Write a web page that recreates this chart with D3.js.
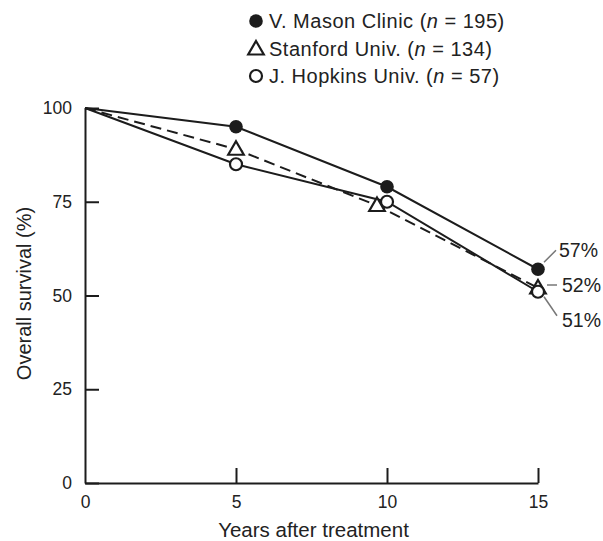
<!DOCTYPE html>
<html>
<head>
<meta charset="utf-8">
<script src="https://cdn.jsdelivr.net/npm/d3@7"></script>
<style>
  html, body { margin: 0; padding: 0; background: #fff; }
  svg { display: block; }
  text { font-family: "Liberation Sans", Arial, Helvetica, sans-serif; fill: #222; }
</style>
</head>
<body>
<svg id="chart" width="603" height="541"></svg>
<script>
// Overall survival by years after treatment, three centres
const years = [0, 5, 10, 15];
const masonSurvival = [100, 95, 79, 57];
const stanfordSurvival = [100, 89, 74, 52];
const hopkinsSurvival = [100, 85, 75, 51];

const seriesNames = ["V. Mason Clinic", "Stanford Univ.", "J. Hopkins Univ."];
const seriesN = [195, 134, 57];
const endLabels = ["57%", "52%", "51%"];

const yTickValues = [0, 25, 50, 75, 100];
const xTickValues = [0, 5, 10, 15];
const xTitle = "Years after treatment";
const yTitle = "Overall survival (%)";

const svg = d3.select("#chart");
const ink = "#1c1c1c";

const x = d3.scaleLinear().domain([0, 15]).range([85, 538]);
const y = d3.scaleLinear().domain([0, 100]).range([483, 108]);

// Axes: ticks point inward from the axis lines
const yAxis = svg.append("g")
  .attr("transform", `translate(${x(0)},0)`)
  .call(d3.axisLeft(y).tickValues(yTickValues).tickSizeInner(-14).tickSizeOuter(0).tickPadding(13));
const xAxis = svg.append("g")
  .attr("transform", `translate(0,${y(0)})`)
  .call(d3.axisBottom(x).tickValues(xTickValues).tickSizeInner(-15).tickSizeOuter(0).tickPadding(13));

[yAxis, xAxis].forEach(g => {
  g.select(".domain").attr("stroke", ink).attr("stroke-width", 2);
  g.selectAll(".tick line").attr("stroke", ink).attr("stroke-width", 2);
  g.selectAll(".tick text").attr("fill", "#222").style("font-size", "17.5px")
    .style("font-family", '"Liberation Sans", Arial, sans-serif');
});
xAxis.selectAll(".tick").filter(d => d === 0).select("line").remove();

// Axis titles
svg.append("text")
  .attr("x", (x(0) + x(15)) / 2 + 2)
  .attr("y", 537)
  .attr("text-anchor", "middle")
  .style("font-size", "20.5px")
  .text(xTitle);
svg.append("text")
  .attr("transform", `translate(31,${(y(0) + y(100)) / 2 - 2}) rotate(-90)`)
  .attr("text-anchor", "middle")
  .style("font-size", "20px")
  .text(yTitle);

// Stanford marker at year 10 is nudged left so it does not hide the circles
const nudge = (si, i) => (si === 1 && years[i] === 10 ? -10 : 0);

const seriesVals = [masonSurvival, stanfordSurvival, hopkinsSurvival];
const pts = seriesVals.map((vals, si) => vals.map((v, i) => [x(years[i]) + nudge(si, i), y(v)]));

const line = d3.line();
seriesVals.forEach((vals, si) => {
  svg.append("path")
    .attr("d", line(pts[si]))
    .attr("fill", "none")
    .attr("stroke", ink)
    .attr("stroke-width", 2)
    .attr("stroke-dasharray", si === 1 ? "11,6" : null);
});

// Markers
const tri = d3.symbol().type(d3.symbolTriangle).size(105);
function drawMarker(g, si, cx, cy) {
  if (si === 0) {
    g.append("circle").attr("cx", cx).attr("cy", cy).attr("r", 6.8).attr("fill", ink);
  } else if (si === 1) {
    g.append("path").attr("d", tri()).attr("transform", `translate(${cx},${cy + 1})`)
      .attr("fill", "#fff").attr("stroke", ink).attr("stroke-width", 2.2);
  } else {
    g.append("circle").attr("cx", cx).attr("cy", cy).attr("r", 6).attr("fill", "#fff")
      .attr("stroke", ink).attr("stroke-width", 2.2);
  }
}
const markerG = svg.append("g");
[1, 2, 0].forEach(si => {
  pts[si].forEach((p, i) => { if (i > 0) drawMarker(markerG, si, p[0], p[1]); });
});

// End-point value labels with leader lines
const labelLayout = [
  { from: [6, -7], to: [18, -19], text: [21, -12] },
  { from: [9, -3], to: [19, -3], text: [24, 4] },
  { from: [6, 5], to: [19, 24], text: [24, 35] }
];
seriesVals.forEach((vals, si) => {
  const p = pts[si][pts[si].length - 1];
  const L = labelLayout[si];
  svg.append("line")
    .attr("x1", p[0] + L.from[0]).attr("y1", p[1] + L.from[1])
    .attr("x2", p[0] + L.to[0]).attr("y2", p[1] + L.to[1])
    .attr("stroke", "#777").attr("stroke-width", 1.5);
  svg.append("text")
    .attr("x", p[0] + L.text[0]).attr("y", p[1] + L.text[1])
    .style("font-size", "19.5px")
    .text(endLabels[si]);
});

// Legend
const legendRows = [21, 49, 76];
const legend = svg.append("g");
seriesNames.forEach((name, si) => {
  const cy = legendRows[si];
  drawMarker(legend, si, 256, cy);
  const t = legend.append("text")
    .attr("x", 269).attr("y", cy + 7)
    .style("font-size", "20px")
    .style("letter-spacing", "0.5px");
  t.append("tspan").text(name + " (");
  t.append("tspan").style("font-style", "italic").text("n");
  t.append("tspan").text(" = " + seriesN[si] + ")");
});
</script>
</body>
</html>
